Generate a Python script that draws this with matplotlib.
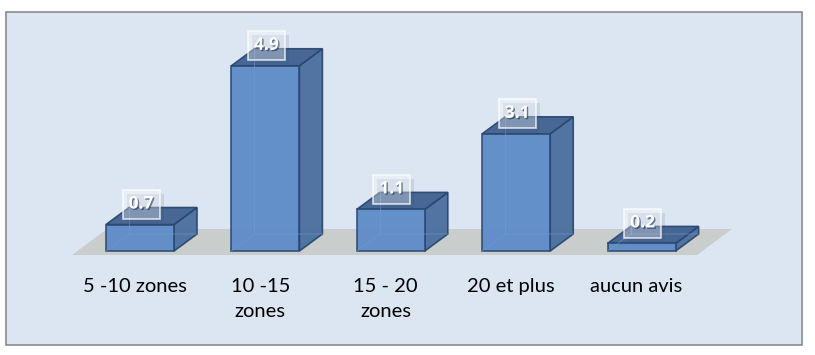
import matplotlib.pyplot as plt
from matplotlib.patches import Polygon, Rectangle
import matplotlib.patheffects as pe
import numpy as np

categories = ['5 -10 zones', '10 -15\nzones', '15 - 20\nzones', '20 et plus', 'aucun avis']
values = [0.7, 4.9, 1.1, 3.1, 0.2]
labels = ['0.7', '4.9', '1.1', '3.1', '0.2']

# pixel -> data mapping (x: 125.4 px per category, y: 37.8 px per unit)
px_x = 125.4
px_y = 37.8
W, H = 815, 355

fig = plt.figure(figsize=(W / 100, H / 100), dpi=100)
ax = fig.add_axes([0, 0, 1, 1])
ax.set_xlim((0 - 140) / px_x, (W - 140) / px_x)
ax.set_ylim((251 - H) / px_y, 251 / px_y)
ax.axis('off')

# panel
ax.add_patch(Rectangle((6 / W, 1 - 345 / H), (802 - 6) / W, (345 - 12) / H,
                       transform=ax.transAxes, fc='#dce6f2', ec='#8a8a8a',
                       lw=1.2, zorder=0))

hw = 34 / px_x          # half bar width
dx = 23 / px_x          # depth offset
dy = 17 / px_y

# floor
f0 = -4 / px_y
fdx, fdy = 35 / px_x, 26 / px_y
fl, fr = (72 - 140) / px_x, (697 - 140) / px_x
ax.add_patch(Polygon([(fl, f0), (fr, f0), (fr + fdx, f0 + fdy), (fl + fdx, f0 + fdy)],
                     closed=True, fc='#c9cecc', ec='none', zorder=1))

front = '#5a89c7'
top = '#40608f'
side = '#4a6e9f'
edge = '#2b4870'

for i, v in enumerate(values):
    x0, x1 = i - hw, i + hw
    # back hidden edges (transparent look)
    ax.plot([x0 + dx, x0 + dx], [dy, v + dy], color='#7aa0d2', lw=0.8, zorder=2)
    ax.plot([x0, x0 + dx, x1 + dx], [0, dy, dy], color='#7aa0d2', lw=0.8, zorder=2)
    ax.add_patch(Polygon([(x1, 0), (x1 + dx, dy), (x1 + dx, v + dy), (x1, v)],
                         closed=True, fc=side, ec=edge, lw=1.2, alpha=0.95, zorder=3))
    ax.add_patch(Polygon([(x0, v), (x1, v), (x1 + dx, v + dy), (x0 + dx, v + dy)],
                         closed=True, fc=top, ec=edge, lw=1.2, alpha=0.95, zorder=3))
    ax.add_patch(Polygon([(x0, 0), (x1, 0), (x1, v), (x0, v)],
                         closed=True, fc=front, ec=edge, lw=1.2, alpha=0.92, zorder=4))
    ax.plot([x0 + dx, x0 + dx], [dy, v + dy], color='#7aa0d2', lw=0.6, alpha=0.6, zorder=5)
    ax.plot([x0, x0 + dx, x1 + dx], [0, dy, dy], color='#7aa0d2', lw=0.6, alpha=0.6, zorder=5)

    # value label box
    bw, bh = 37 / px_x, 29 / px_y
    cx, cy = i + 1 / px_x, v + 20 / px_y
    ax.add_patch(Rectangle((cx - bw / 2 + 4 / px_x, cy - bh / 2 - 4 / px_y), bw, bh,
                           fc=(0.2, 0.3, 0.45, 0.12), ec='none', zorder=5))
    ax.add_patch(Rectangle((cx - bw / 2, cy - bh / 2), bw, bh,
                           fc=(1, 1, 1, 0.32), ec=(1, 1, 1, 0.75), lw=1.2, zorder=6))
    ax.text(cx, cy + 1 / px_y, labels[i], ha='center', va='center', color='white',
            fontsize=12.5, fontweight='bold', family='Open Sans', zorder=7,
            path_effects=[pe.withSimplePatchShadow(offset=(1, -1), shadow_rgbFace='#1f3350',
                                                   alpha=0.6)])

    ax.text(i - 5 / px_x, -27 / px_y, categories[i], ha='center', va='top',
            multialignment='center', fontsize=14.5, family='Lato', color='black',
            linespacing=1.6, zorder=7)

fig.savefig('out.png', dpi=100, facecolor='white')
